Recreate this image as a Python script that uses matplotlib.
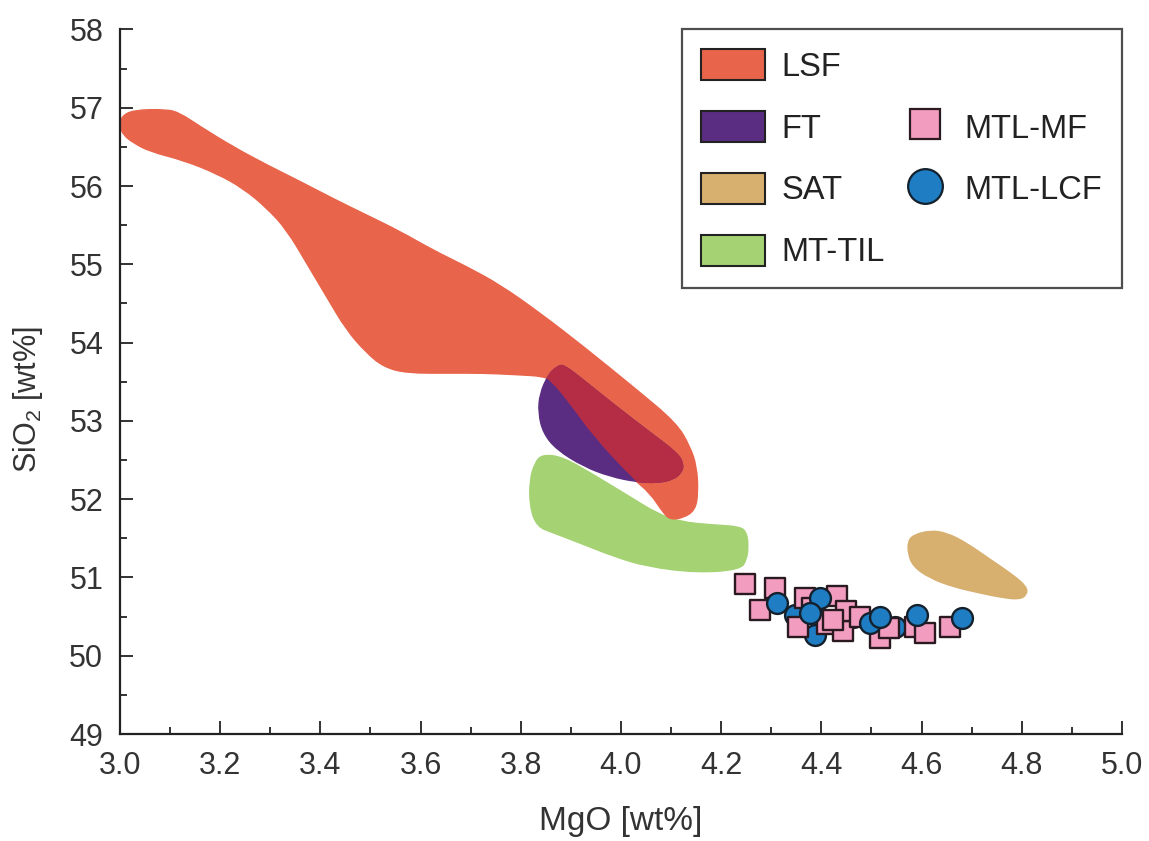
import matplotlib
matplotlib.use('Agg')
import matplotlib.pyplot as plt
from matplotlib.patches import PathPatch, Patch
from matplotlib.path import Path
from matplotlib.lines import Line2D
from matplotlib.legend_handler import HandlerLine2D

plt.rcParams['font.family'] = ['Liberation Sans', 'DejaVu Sans']
plt.rcParams['mathtext.fontset'] = 'custom'
plt.rcParams['mathtext.rm'] = 'Liberation Sans'

# Field outlines (MgO, SiO2)
lsf_mgo = [3.000, 3.003, 3.027, 3.093, 3.120, 3.160, 3.226, 3.293, 3.359, 3.425,
           3.492, 3.559, 3.625, 3.692, 3.758, 3.838, 3.925, 4.031, 4.111, 4.138,
           4.151, 4.154, 4.148, 4.124, 4.098, 4.084, 4.058, 4.022, 3.945, 3.892,
           3.858, 3.845, 3.792, 3.725, 3.659, 3.572, 3.526, 3.492, 3.452, 3.412,
           3.373, 3.333, 3.293, 3.246, 3.193, 3.126, 3.060, 3.027, 3.007]
lsf_sio2 = [56.76, 56.89, 56.97, 56.98, 56.93, 56.76, 56.50, 56.27, 56.06, 55.84,
            55.63, 55.42, 55.18, 54.97, 54.74, 54.38, 53.95, 53.40, 52.97, 52.67,
            52.42, 52.08, 51.86, 51.76, 51.74, 51.83, 52.08, 52.27, 52.80, 53.27,
            53.52, 53.57, 53.59, 53.61, 53.61, 53.61, 53.69, 53.87, 54.16, 54.59,
            55.01, 55.44, 55.72, 55.97, 56.16, 56.33, 56.44, 56.55, 56.65]

ft_mgo = [3.885, 3.925, 3.991, 4.058, 4.112, 4.124, 4.122, 4.104, 4.072, 4.032,
          3.978, 3.925, 3.872, 3.845, 3.835, 3.838, 3.855, 3.872]
ft_sio2 = [53.72, 53.52, 53.18, 52.85, 52.59, 52.46, 52.35, 52.25, 52.21, 52.22,
           52.29, 52.42, 52.63, 52.84, 53.10, 53.35, 53.59, 53.69]

sat_mgo = [4.583, 4.617, 4.650, 4.690, 4.737, 4.783, 4.810, 4.810, 4.796, 4.763,
           4.717, 4.663, 4.617, 4.583, 4.573, 4.573]
sat_sio2 = [51.54, 51.60, 51.57, 51.44, 51.23, 51.03, 50.88, 50.78, 50.72, 50.74,
            50.80, 50.88, 50.99, 51.14, 51.31, 51.46]

mttil_mgo = [3.842, 3.884, 3.951, 4.018, 4.071, 4.118, 4.184, 4.238, 4.251, 4.254,
             4.251, 4.238, 4.151, 4.051, 3.985, 3.918, 3.865, 3.832, 3.818, 3.818,
             3.828]
mttil_sio2 = [52.57, 52.54, 52.29, 52.03, 51.82, 51.71, 51.67, 51.65, 51.57, 51.40,
              51.23, 51.10, 51.06, 51.14, 51.27, 51.44, 51.57, 51.65, 51.91, 52.25,
              52.46]

# Samples
mf_mgo = [4.248, 4.307, 4.277, 4.367, 4.354, 4.381, 4.411, 4.431, 4.444, 4.450,
          4.423, 4.517, 4.534, 4.587, 4.607, 4.657, 4.477]
mf_sio2 = [50.91, 50.86, 50.59, 50.74, 50.37, 50.61, 50.40, 50.76, 50.31, 50.57,
           50.46, 50.23, 50.35, 50.37, 50.29, 50.37, 50.50]

lcf_mgo = [4.347, 4.387, 4.463, 4.547, 4.311, 4.397, 4.377, 4.497, 4.517, 4.590, 4.680]
lcf_sio2 = [50.52, 50.26, 50.50, 50.37, 50.67, 50.74, 50.54, 50.42, 50.50, 50.52, 50.48]
lcf_under = 4   # first four circles sit below the squares

c_lsf = '#E8644A'
c_ft = '#5A2D82'
c_overlap = '#B42D45'
c_sat = '#D7AF6E'
c_mttil = '#A5D273'
c_mf = '#F29CC0'
c_lcf = '#1E7DC3'


def field_path(xs, ys):
    # closed outline drawn with quadratic curves through the traced points
    pts = list(zip(xs, ys))
    n = len(pts)
    mids = [((pts[i][0] + pts[(i + 1) % n][0]) / 2, (pts[i][1] + pts[(i + 1) % n][1]) / 2)
            for i in range(n)]
    verts = [mids[-1]]
    codes = [Path.MOVETO]
    for i in range(n):
        verts += [pts[i], mids[i]]
        codes += [Path.CURVE3, Path.CURVE3]
    verts.append(mids[-1])
    codes.append(Path.CLOSEPOLY)
    return Path(verts, codes)


fig = plt.figure(figsize=(11.49, 8.41), dpi=100)
ax = fig.add_axes([0.1044, 0.1272, 0.8721, 0.8378])

green = PathPatch(field_path(mttil_mgo, mttil_sio2), fc=c_mttil, ec=c_mttil, lw=1, zorder=1)
ax.add_patch(green)
lsf = PathPatch(field_path(lsf_mgo, lsf_sio2), fc=c_lsf, ec=c_lsf, lw=1, zorder=2)
ax.add_patch(lsf)
ft = PathPatch(field_path(ft_mgo, ft_sio2), fc=c_ft, ec=c_ft, lw=1, zorder=2.5)
ax.add_patch(ft)
# part of FT lying inside LSF
ft_in = PathPatch(field_path(ft_mgo, ft_sio2), fc=c_overlap, ec=c_overlap, lw=1, zorder=2.6)
ax.add_patch(ft_in)
ft_in.set_clip_path(lsf)
sat = PathPatch(field_path(sat_mgo, sat_sio2), fc=c_sat, ec=c_sat, lw=1, zorder=1)
ax.add_patch(sat)

ax.scatter(lcf_mgo[:lcf_under], lcf_sio2[:lcf_under], s=225, marker='o', c=c_lcf,
           edgecolors='#14202c', linewidths=1.7, zorder=3)
ax.scatter(mf_mgo, mf_sio2, s=205, marker='s', c=c_mf,
           edgecolors='#2a1a20', linewidths=1.7, zorder=4)
ax.scatter(lcf_mgo[lcf_under:], lcf_sio2[lcf_under:], s=225, marker='o', c=c_lcf,
           edgecolors='#14202c', linewidths=1.7, zorder=5)

ax.set_xlim(3.0, 5.0)
ax.set_ylim(49, 58)
ax.set_xticks([3.0 + 0.2 * i for i in range(11)])
ax.set_xticks([3.1 + 0.2 * i for i in range(10)], minor=True)
ax.set_yticks(range(49, 59))
ax.set_yticks([49.5 + i for i in range(9)], minor=True)
ax.xaxis.set_major_formatter(matplotlib.ticker.FormatStrFormatter('%.1f'))
ax.spines['top'].set_visible(False)
ax.spines['right'].set_visible(False)
for s in ['left', 'bottom']:
    ax.spines[s].set_linewidth(1.6)
    ax.spines[s].set_color('#222222')
ax.tick_params(which='major', direction='in', length=9.5, width=1.3, labelsize=22,
               pad=12, color='#222222', labelcolor='#333333')
ax.tick_params(which='minor', direction='in', length=5, width=1.3, color='#222222')

ax.set_xlabel('MgO [wt%]', fontsize=24, labelpad=18, color='#333333')
ax.set_ylabel(r'SiO$\mathregular{_2}$ [wt%]', fontsize=22, color='#333333')
ax.yaxis.set_label_coords(-0.075, 0.474)

blank = Line2D([], [], ls='none')
mf_handle = Line2D([], [], ls='none', marker='s', ms=22, mfc=c_mf, mec='#2a1a20', mew=1.6)
lcf_handle = Line2D([], [], ls='none', marker='o', ms=25, mfc=c_lcf, mec='#14202c', mew=1.6)
handles = [Patch(fc=c_lsf, ec='#222222', lw=1.5),
           Patch(fc=c_ft, ec='#222222', lw=1.5),
           Patch(fc=c_sat, ec='#222222', lw=1.5),
           Patch(fc=c_mttil, ec='#222222', lw=1.5),
           blank, mf_handle, lcf_handle, blank]
labels = ['LSF', 'FT', 'SAT', 'MT-TIL', ' ', 'MTL-MF', 'MTL-LCF', ' ']
leg = ax.legend(handles, labels, ncol=2, loc='upper right', borderaxespad=0,
                fontsize=23.5, handlelength=1.95, handleheight=1.1, handletextpad=0.5,
                labelspacing=0.86, columnspacing=0.0, borderpad=0.6,
                fancybox=False, frameon=True,
                handler_map={mf_handle: HandlerLine2D(xpad=0.55),
                             lcf_handle: HandlerLine2D(xpad=0.55)})
leg.get_frame().set_edgecolor('#222222')
leg.get_frame().set_linewidth(1.6)
for t in leg.get_texts():
    t.set_color('#222222')

fig.savefig('out.png', dpi=100)
